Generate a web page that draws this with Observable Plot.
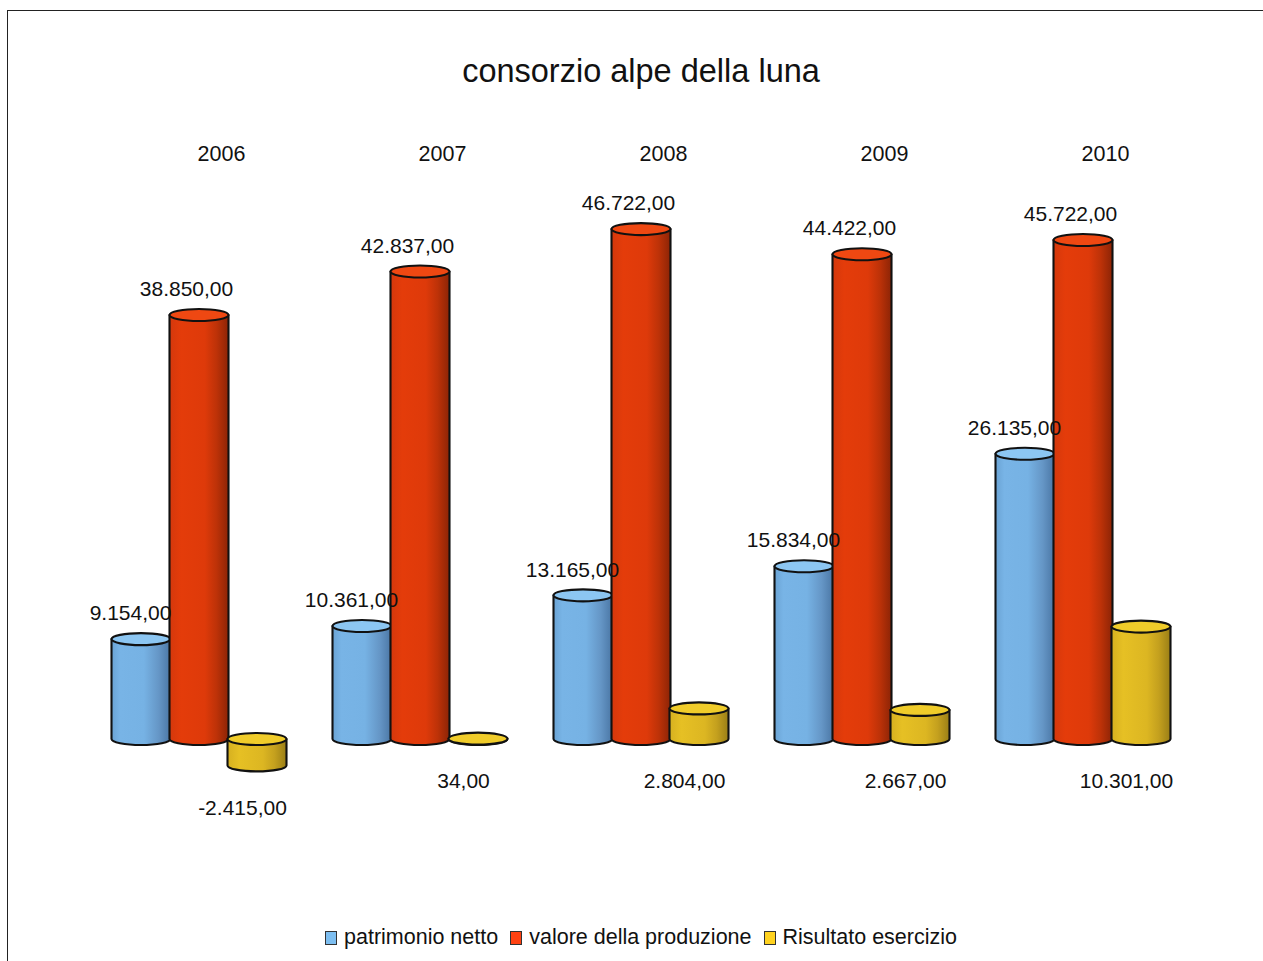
<!DOCTYPE html>
<html>
<head>
<meta charset="utf-8">
<script src="https://cdn.jsdelivr.net/npm/d3@7"></script>
<script src="https://cdn.jsdelivr.net/npm/@observablehq/plot@0.6"></script>
<style>
  html, body { margin: 0; padding: 0; background: #fff; overflow: hidden; }
  body { position: relative; width: 1263px; height: 961px; font-family: "Liberation Sans", Arial, sans-serif; color: #111; }
  #frame { position: absolute; left: 7px; top: 10px; width: 1300px; height: 1000px; border-top: 1px solid #222; border-left: 1px solid #222; }
  #title { position: absolute; left: 7px; width: 1268px; top: 55px; text-align: center; font-size: 32.5px; line-height: 32px; }
  #chart { position: absolute; left: 7px; top: 100px; }
  #legend { position: absolute; left: 7px; width: 1268px; top: 927px; display: flex; justify-content: center; align-items: center; font-size: 21.5px; line-height: 21px; }
  #legend .item { display: flex; align-items: center; margin: 0 6px; }
  #legend .sw { width: 12px; height: 14px; border: 1px solid #333; margin-right: 7px; box-sizing: border-box; }
</style>
</head>
<body>
<div id="frame"></div>
<div id="title">consorzio alpe della luna</div>
<div id="chart"></div>
<div id="legend"></div>
<script>
const years = ["2006", "2007", "2008", "2009", "2010"];
const series = ["patrimonio netto", "valore della produzione", "Risultato esercizio"];
const patrimonio = [9154, 10361, 13165, 15834, 26135];
const valore = [38850, 42837, 46722, 44422, 45722];
const risultato = [-2415, 34, 2804, 2667, 10301];

const baseColors = ["#78b4e6", "#e03a0a", "#e2bc22"];
const legendColors = ["#7dbef0", "#ff4212", "#ffd21f"];
const topColors = ["#8cc6f2", "#ef4812", "#f0cc2a"];
const gradStops = [
  [["0", "#6aa3d4"], ["0.15", "#78b4e6"], ["0.55", "#76b2e4"], ["0.8", "#6596c6"], ["1", "#4a76a4"]],
  [["0", "#d4380c"], ["0.2", "#e43c0a"], ["0.6", "#de3a0a"], ["0.8", "#bd3208"], ["1", "#8c2406"]],
  [["0", "#d6b020"], ["0.2", "#e6c024"], ["0.6", "#dcb622"], ["0.8", "#c4a01e"], ["1", "#9a7e16"]]
];

const locale = d3.formatLocale({decimal: ",", thousands: ".", grouping: [3], currency: ["", ""], minus: "-"});
const fmt = locale.format(",.2f");

const data = years.flatMap((yr, i) => [
  {year: yr, series: series[0], value: patrimonio[i]},
  {year: yr, series: series[1], value: valore[i]},
  {year: yr, series: series[2], value: risultato[i]}
]);

const font = "Liberation Sans, Arial, sans-serif";

const plot = Plot.plot({
  width: 1256,
  height: 780,
  marginTop: 93.3,
  marginBottom: 86.4,
  marginLeft: 104,
  marginRight: 93,
  fx: {domain: years, paddingInner: 0.213, paddingOuter: 0, axis: null, label: null},
  x: {domain: series, padding: 0, axis: null, label: null},
  y: {domain: [-5000, 50000], axis: null, label: null},
  color: {domain: series, range: baseColors},
  style: {fontFamily: font, fontSize: "21px", overflow: "visible", background: "transparent"},
  marks: [
    Plot.barY(data, {fx: "year", x: "series", y: "value", fill: "series"}),
    Plot.text(data.filter(d => d.series === series[0]), {fx: "year", x: "series", y: "value", text: d => fmt(d.value), dy: -26, dx: -11, fill: "#111", fontSize: 21}),
    Plot.text(data.filter(d => d.series === series[1]), {fx: "year", x: "series", y: "value", text: d => fmt(d.value), dy: -26, dx: -13, fill: "#111", fontSize: 21}),
    Plot.text(data.filter(d => d.series === series[2]), {fx: "year", x: "series", y: d => Math.min(0, d.value), text: d => fmt(d.value), dy: 42, dx: -15, fill: "#111", fontSize: 21}),
    Plot.text(years, {fx: d => d, text: d => d, frameAnchor: "top", dy: -48.3, dx: 22, fill: "#111", fontSize: 21.5})
  ]
});

document.getElementById("chart").appendChild(plot);

// gradients
const svg = d3.select(plot);
const defs = svg.insert("defs", ":first-child");
gradStops.forEach((stops, i) => {
  const g = defs.append("linearGradient").attr("id", "cyl" + i).attr("x1", 0).attr("x2", 1).attr("y1", 0).attr("y2", 0);
  stops.forEach(([o, c]) => g.append("stop").attr("offset", o).attr("stop-color", c));
});

// turn bar rects into cylinders
svg.selectAll('g[aria-label="bar"] rect').each(function () {
  const r = d3.select(this);
  const x = +r.attr("x"), y = +r.attr("y"), w = +r.attr("width"), h = +r.attr("height");
  const idx = baseColors.indexOf(r.attr("fill"));
  const cx = x + w / 2, rx = w / 2 + 0.5, ry = 6;
  const L = cx - rx, R = cx + rx, top = y, bot = y + h;
  const g = d3.select(this.parentNode).insert("g", () => this);
  g.append("path")
    .attr("d", `M${L},${top} L${L},${bot} A${rx},${ry} 0 0 0 ${R},${bot} L${R},${top} Z`)
    .attr("fill", `url(#cyl${idx})`)
    .attr("stroke", "#111").attr("stroke-width", 2.1).attr("stroke-linejoin", "round");
  g.append("ellipse")
    .attr("cx", cx).attr("cy", top).attr("rx", rx).attr("ry", ry)
    .attr("fill", topColors[idx])
    .attr("stroke", "#111").attr("stroke-width", 2.1);
  r.remove();
});

// legend
const legend = d3.select("#legend");
series.forEach((s, i) => {
  const it = legend.append("div").attr("class", "item");
  it.append("div").attr("class", "sw").style("background", legendColors[i]);
  it.append("span").text(s);
});
</script>
</body>
</html>
